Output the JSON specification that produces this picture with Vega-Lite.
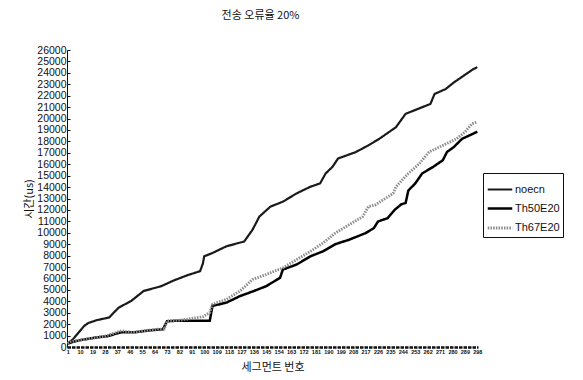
{
  "$schema": "https://vega.github.io/schema/vega-lite/v6.json",
  "autosize": "none",
  "width": 411,
  "height": 297,
  "padding": {"left": 67, "top": 50, "right": 105, "bottom": 33},
  "background": "white",
  "title": {"text": "전송 오류율 20%", "font": "Noto Sans CJK KR", "fontSize": 11, "fontWeight": "normal", "color": "#111", "anchor": "middle", "dx": -12, "offset": 24},
  "config": {"view": {"stroke": null}},
  "data": {"values": [
    {"s":"noecn","c":1,"v":300},{"s":"noecn","c":5,"v":700},{"s":"noecn","c":9,"v":1280},{"s":"noecn","c":13,"v":1850},{"s":"noecn","c":16,"v":2100},{"s":"noecn","c":22,"v":2350},{"s":"noecn","c":31,"v":2580},{"s":"noecn","c":38,"v":3450},{"s":"noecn","c":47,"v":4030},{"s":"noecn","c":56,"v":4900},{"s":"noecn","c":69,"v":5330},{"s":"noecn","c":78,"v":5830},{"s":"noecn","c":88,"v":6290},{"s":"noecn","c":97,"v":6640},{"s":"noecn","c":99,"v":7300},{"s":"noecn","c":100,"v":7940},{"s":"noecn","c":106,"v":8230},{"s":"noecn","c":116,"v":8810},{"s":"noecn","c":129,"v":9240},{"s":"noecn","c":135,"v":10260},{"s":"noecn","c":140,"v":11420},{"s":"noecn","c":148,"v":12290},{"s":"noecn","c":157,"v":12720},{"s":"noecn","c":167,"v":13450},{"s":"noecn","c":177,"v":14030},{"s":"noecn","c":184,"v":14320},{"s":"noecn","c":188,"v":15190},{"s":"noecn","c":193,"v":15770},{"s":"noecn","c":197,"v":16500},{"s":"noecn","c":210,"v":17070},{"s":"noecn","c":219,"v":17650},{"s":"noecn","c":227,"v":18230},{"s":"noecn","c":239,"v":19240},{"s":"noecn","c":246,"v":20410},{"s":"noecn","c":258,"v":20990},{"s":"noecn","c":264,"v":21280},{"s":"noecn","c":267,"v":22150},{"s":"noecn","c":275,"v":22580},{"s":"noecn","c":281,"v":23160},{"s":"noecn","c":288,"v":23740},{"s":"noecn","c":295,"v":24320},{"s":"noecn","c":298,"v":24500},
    {"s":"Th50E20","c":1,"v":300},{"s":"Th50E20","c":5,"v":450},{"s":"Th50E20","c":10,"v":600},{"s":"Th50E20","c":20,"v":800},{"s":"Th50E20","c":30,"v":950},{"s":"Th50E20","c":40,"v":1300},{"s":"Th50E20","c":50,"v":1300},{"s":"Th50E20","c":60,"v":1450},{"s":"Th50E20","c":70,"v":1550},{"s":"Th50E20","c":73,"v":2250},{"s":"Th50E20","c":80,"v":2300},{"s":"Th50E20","c":90,"v":2300},{"s":"Th50E20","c":100,"v":2300},{"s":"Th50E20","c":104,"v":2300},{"s":"Th50E20","c":106,"v":3600},{"s":"Th50E20","c":116,"v":3880},{"s":"Th50E20","c":126,"v":4460},{"s":"Th50E20","c":136,"v":4900},{"s":"Th50E20","c":145,"v":5330},{"s":"Th50E20","c":155,"v":6060},{"s":"Th50E20","c":157,"v":6780},{"s":"Th50E20","c":167,"v":7220},{"s":"Th50E20","c":177,"v":7940},{"s":"Th50E20","c":186,"v":8370},{"s":"Th50E20","c":195,"v":9000},{"s":"Th50E20","c":205,"v":9390},{"s":"Th50E20","c":217,"v":9970},{"s":"Th50E20","c":223,"v":10410},{"s":"Th50E20","c":226,"v":10990},{"s":"Th50E20","c":233,"v":11280},{"s":"Th50E20","c":238,"v":12000},{"s":"Th50E20","c":243,"v":12500},{"s":"Th50E20","c":246,"v":12600},{"s":"Th50E20","c":248,"v":13700},{"s":"Th50E20","c":253,"v":14320},{"s":"Th50E20","c":258,"v":15190},{"s":"Th50E20","c":266,"v":15770},{"s":"Th50E20","c":273,"v":16350},{"s":"Th50E20","c":276,"v":17070},{"s":"Th50E20","c":281,"v":17510},{"s":"Th50E20","c":287,"v":18230},{"s":"Th50E20","c":295,"v":18670},{"s":"Th50E20","c":298,"v":18850},
    {"s":"Th67E20","c":1,"v":300},{"s":"Th67E20","c":3,"v":450},{"s":"Th67E20","c":12,"v":650},{"s":"Th67E20","c":22,"v":840},{"s":"Th67E20","c":29,"v":980},{"s":"Th67E20","c":40,"v":1420},{"s":"Th67E20","c":48,"v":1280},{"s":"Th67E20","c":56,"v":1420},{"s":"Th67E20","c":66,"v":1560},{"s":"Th67E20","c":71,"v":1560},{"s":"Th67E20","c":73,"v":2290},{"s":"Th67E20","c":83,"v":2350},{"s":"Th67E20","c":95,"v":2580},{"s":"Th67E20","c":99,"v":2640},{"s":"Th67E20","c":104,"v":3020},{"s":"Th67E20","c":106,"v":3740},{"s":"Th67E20","c":116,"v":4170},{"s":"Th67E20","c":126,"v":4900},{"s":"Th67E20","c":135,"v":5910},{"s":"Th67E20","c":145,"v":6350},{"s":"Th67E20","c":157,"v":6930},{"s":"Th67E20","c":167,"v":7650},{"s":"Th67E20","c":177,"v":8370},{"s":"Th67E20","c":186,"v":9100},{"s":"Th67E20","c":195,"v":9970},{"s":"Th67E20","c":205,"v":10700},{"s":"Th67E20","c":215,"v":11420},{"s":"Th67E20","c":219,"v":12290},{"s":"Th67E20","c":224,"v":12440},{"s":"Th67E20","c":230,"v":12900},{"s":"Th67E20","c":237,"v":13450},{"s":"Th67E20","c":239,"v":14030},{"s":"Th67E20","c":248,"v":15190},{"s":"Th67E20","c":256,"v":16060},{"s":"Th67E20","c":263,"v":17070},{"s":"Th67E20","c":273,"v":17650},{"s":"Th67E20","c":283,"v":18230},{"s":"Th67E20","c":289,"v":18810},{"s":"Th67E20","c":294,"v":19540},{"s":"Th67E20","c":298,"v":19700}
  ]},
  "encoding": {
    "x": {"field": "c", "type": "quantitative",
      "scale": {"domain": [0.5, 298.5], "nice": false, "zero": false},
      "axis": {"title": "세그먼트 번호", "titleFont": "Noto Sans CJK KR", "titleFontSize": 11, "titleFontWeight": "normal", "titleColor": "#111", "titlePadding": 7,
        "values": [1,10,19,28,37,46,55,64,73,82,91,100,109,118,127,136,145,154,163,172,181,190,199,208,217,226,235,244,253,262,271,280,289,298],
        "labelFont": "Liberation Sans", "labelFontSize": 5.5, "labelFontWeight": "bold", "labelColor": "#111", "labelPadding": 2, "labelOverlap": false, "labelFlush": false,
        "grid": false, "ticks": false, "domainColor": "#111", "domainWidth": 2.5, "domainDash": [3.5, 1]}},
    "y": {"field": "v", "type": "quantitative",
      "scale": {"domain": [0, 26000], "nice": false},
      "axis": {"title": "시간(us)", "titleFont": "Noto Sans CJK KR", "titleFontSize": 11, "titleFontWeight": "normal", "titleColor": "#111", "titlePadding": 2, "format": "d",
        "values": [0,1000,2000,3000,4000,5000,6000,7000,8000,9000,10000,11000,12000,13000,14000,15000,16000,17000,18000,19000,20000,21000,22000,23000,24000,25000,26000],
        "labelFont": "Liberation Sans", "labelFontSize": 10.5, "labelColor": "#111", "labelPadding": 4,
        "grid": false, "tickSize": -3, "tickColor": "#111", "domainColor": "#111", "domainWidth": 1}},
    "color": {"field": "s", "type": "nominal",
      "scale": {"domain": ["noecn", "Th50E20", "Th67E20"], "range": ["#1a1a1a", "#000000", "#8a8a8a"]},
      "legend": {"title": null, "orient": "none", "legendX": 416, "legendY": 123, "direction": "vertical",
        "strokeColor": "#111", "fillColor": "white", "padding": 3, "symbolType": "stroke", "symbolSize": 600, "symbolStrokeWidth": 2,
        "labelFont": "Liberation Sans", "labelFontSize": 11, "labelColor": "#111", "rowPadding": 0, "labelOffset": 1}},
    "strokeDash": {"field": "s", "type": "nominal",
      "scale": {"domain": ["noecn", "Th50E20", "Th67E20"], "range": [[1, 0], [1, 0], [1.5, 1.2]]}},
    "strokeWidth": {"field": "s", "type": "nominal",
      "scale": {"domain": ["noecn", "Th50E20", "Th67E20"], "range": [2.2, 2.8, 1.8]}, "legend": null}
  },
  "layer": [
    {"transform": [{"filter": "datum.s === 'noecn'"}], "mark": {"type": "line"}},
    {"transform": [{"filter": "datum.s === 'Th50E20'"}], "mark": {"type": "line"}},
    {"transform": [{"filter": "datum.s === 'Th67E20'"}], "mark": {"type": "line"}}
  ]
}
